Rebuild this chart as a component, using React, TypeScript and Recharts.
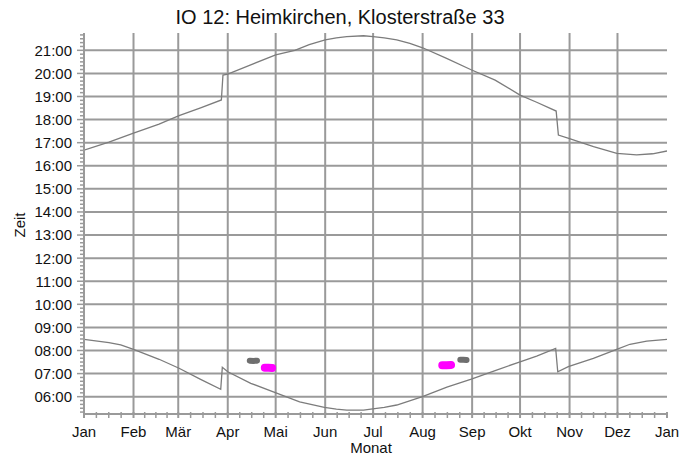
import React from 'react';
import { LineChart, Line, XAxis, YAxis, ReferenceLine } from 'recharts';

// ---- categories / ticks ----
const monthLabels = ['Jan', 'Feb', 'Mär', 'Apr', 'Mai', 'Jun', 'Jul', 'Aug', 'Sep', 'Okt', 'Nov', 'Dez', 'Jan'];
const monthStarts = [0, 31, 59, 90, 120, 151, 181, 212, 243, 273, 304, 334, 365];
const hourTicks = [6, 7, 8, 9, 10, 11, 12, 13, 14, 15, 16, 17, 18, 19, 20, 21];
const hourLabels = ['06:00', '07:00', '08:00', '09:00', '10:00', '11:00', '12:00', '13:00', '14:00', '15:00', '16:00', '17:00', '18:00', '19:00', '20:00', '21:00'];

// ---- series: sunset (day of year, hour) ----
const sunsetDays = [0, 15.6, 31, 47, 59.5, 73, 86, 87, 90, 104, 120, 132, 141, 151, 158, 164.5, 175, 181, 188, 195.8, 204, 212, 227, 242, 257.4, 273, 283.4, 295.6, 297, 303.5, 319, 333.6, 346, 356, 365];
const sunsetTimes = [16.68, 17.02, 17.41, 17.8, 18.17, 18.51, 18.85, 19.93, 19.97, 20.36, 20.8, 21.0, 21.25, 21.45, 21.54, 21.59, 21.63, 21.59, 21.54, 21.45, 21.3, 21.11, 20.65, 20.17, 19.71, 19.06, 18.75, 18.37, 17.33, 17.19, 16.83, 16.54, 16.47, 16.52, 16.64];

// ---- series: sunrise ----
const sunriseDays = [0, 15.6, 23, 31, 47, 59.5, 73, 85.6, 86.6, 90, 104.4, 120.6, 135, 150.5, 158, 164.5, 175, 180.8, 188, 195.8, 211.9, 227.2, 242.5, 257.4, 273, 283.4, 295.3, 296.6, 303.2, 318.9, 333.5, 341.8, 352.3, 365];
const sunriseTimes = [8.48, 8.34, 8.24, 8.05, 7.62, 7.23, 6.75, 6.32, 7.27, 7.08, 6.58, 6.15, 5.78, 5.54, 5.46, 5.42, 5.42, 5.47, 5.54, 5.64, 6.0, 6.41, 6.76, 7.13, 7.51, 7.76, 8.09, 7.08, 7.3, 7.66, 8.05, 8.27, 8.41, 8.48];

// ---- shadow events ----
const shadeGrayAprDays = [103.8, 106, 108.3];
const shadeGrayAprTimes = [7.56, 7.55, 7.56];
const shadeMagAprDays = [113.2, 115.5, 117.8];
const shadeMagAprTimes = [7.25, 7.25, 7.24];
const shadeMagAugDays = [224.3, 227, 229.8];
const shadeMagAugTimes = [7.36, 7.36, 7.37];
const shadeGrayAugDays = [235.6, 237.5, 239.5];
const shadeGrayAugTimes = [7.6, 7.6, 7.59];

const toData = (days: number[], times: number[]) => days.map((d, i) => ({ day: d, t: times[i] }));

const sunset = toData(sunsetDays, sunsetTimes);
const sunrise = toData(sunriseDays, sunriseTimes);
const grayApr = toData(shadeGrayAprDays, shadeGrayAprTimes);
const magApr = toData(shadeMagAprDays, shadeMagAprTimes);
const magAug = toData(shadeMagAugDays, shadeMagAugTimes);
const grayAug = toData(shadeGrayAugDays, shadeGrayAugTimes);

// minor x ticks: quarter months
const xTicks: number[] = [];
for (let i = 0; i < 12; i++) {
  const a = monthStarts[i];
  const b = monthStarts[i + 1];
  xTicks.push(a);
  for (let k = 1; k < 4; k++) xTicks.push(a + ((b - a) * k) / 4);
}
xTicks.push(365);

// minor y ticks: every 10 minutes
const yTicks: number[] = [];
for (let m = 5 * 60 + 20; m <= 21 * 60 + 40; m += 10) yTicks.push(m / 60);

const GRID = '#9a9a9a';
const CURVE = '#7c7c7c';
const FONT = '"Liberation Sans", Arial, sans-serif';

const XTick = (props: any) => {
  const { x, y, payload } = props;
  const v = payload.value;
  const idx = monthStarts.findIndex((m) => Math.abs(m - v) < 1e-6);
  if (idx >= 0) {
    return (
      <g>
        <line x1={x} x2={x} y1={y - 2} y2={y + 4} stroke={GRID} strokeWidth={2} />
        <text x={x} y={y + 23} textAnchor="middle" fontSize={15} fontFamily={FONT} fill="#111">
          {monthLabels[idx]}
        </text>
      </g>
    );
  }
  return <line x1={x} x2={x} y1={y - 2} y2={y + 4} stroke={GRID} strokeWidth={1.5} />;
};

const YTick = (props: any) => {
  const { x, y, payload } = props;
  const v = payload.value;
  const idx = hourTicks.findIndex((h) => Math.abs(h - v) < 1e-6);
  if (idx >= 0) {
    return (
      <g>
        <line x1={x - 7} x2={x} y1={y} y2={y} stroke={GRID} strokeWidth={1.5} />
        <text x={x - 12} y={y} dy="0.36em" textAnchor="end" fontSize={15} fontFamily={FONT} fill="#111">
          {hourLabels[idx]}
        </text>
      </g>
    );
  }
  return <line x1={x - 4} x2={x} y1={y} y2={y} stroke={GRID} strokeWidth={1.5} />;
};

export default function App() {
  return (
    <div style={{ position: 'absolute', left: 0, top: 0, width: 695, height: 459, background: '#fff' }}>
      <LineChart width={695} height={459} margin={{ top: 33, right: 28, left: 0, bottom: 0 }}>
        <XAxis
          type="number"
          dataKey="day"
          domain={[0, 365]}
          ticks={xTicks}
          interval={0}
          tick={(p: any) => <XTick {...p} />}
          tickLine={false}
          tickSize={0}
          tickMargin={0}
          axisLine={{ stroke: GRID, strokeWidth: 2 }}
          height={45}
          allowDataOverflow
        />
        <YAxis
          type="number"
          dataKey="t"
          domain={[5.25, 21.75]}
          ticks={yTicks}
          interval={0}
          tick={(p: any) => <YTick {...p} />}
          tickLine={false}
          tickSize={0}
          tickMargin={0}
          axisLine={{ stroke: GRID, strokeWidth: 2 }}
          width={84}
          allowDataOverflow
        />
        {monthStarts.slice(1, 12).map((m) => (
          <ReferenceLine key={'vx' + m} x={m} stroke={GRID} strokeWidth={2} />
        ))}
        {hourTicks.map((h) => (
          <ReferenceLine key={'hy' + h} y={h} stroke={GRID} strokeWidth={2} />
        ))}
        <Line data={sunset} dataKey="t" type="linear" stroke={CURVE} strokeWidth={1.3} dot={false} isAnimationActive={false} />
        <Line data={sunrise} dataKey="t" type="linear" stroke={CURVE} strokeWidth={1.3} dot={false} isAnimationActive={false} />
        <Line data={grayApr} dataKey="t" type="linear" stroke="#6f6f6f" strokeWidth={6} strokeLinecap="round" dot={false} isAnimationActive={false} />
        <Line data={magApr} dataKey="t" type="linear" stroke="#ff00ff" strokeWidth={8} strokeLinecap="round" dot={false} isAnimationActive={false} />
        <Line data={magAug} dataKey="t" type="linear" stroke="#ff00ff" strokeWidth={8} strokeLinecap="round" dot={false} isAnimationActive={false} />
        <Line data={grayAug} dataKey="t" type="linear" stroke="#6f6f6f" strokeWidth={6} strokeLinecap="round" dot={false} isAnimationActive={false} />
      </LineChart>
      <svg width={695} height={459} style={{ position: 'absolute', left: 0, top: 0, pointerEvents: 'none' }}>
        <text x={340} y={24} textAnchor="middle" fontSize={20} fontFamily={FONT} fill="#111">
          IO 12: Heimkirchen, Klosterstraße 33
        </text>
        <text transform="translate(25,225) rotate(-90)" textAnchor="middle" fontSize={15} fontFamily={FONT} fill="#111">
          Zeit
        </text>
        <text x={371} y={453} textAnchor="middle" fontSize={15} fontFamily={FONT} fill="#111">
          Monat
        </text>
      </svg>
    </div>
  );
}
